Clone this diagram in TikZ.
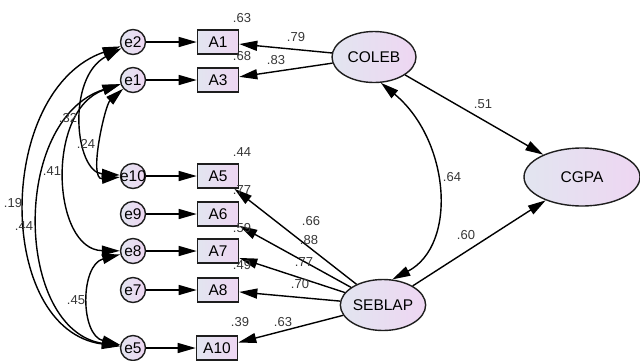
\documentclass[tikz,border=0pt]{standalone}
\usepackage{fontspec}
\setmainfont{Liberation Sans}
\usetikzlibrary{arrows.meta,shapes.geometric}
\definecolor{fillL}{RGB}{226,229,240}
\definecolor{fillR}{RGB}{238,214,242}
\definecolor{edgec}{RGB}{30,30,30}
\definecolor{numc}{RGB}{55,55,55}
\newcommand{\zw}[1]{\makebox[0pt]{#1}}
\begin{document}
\begin{tikzpicture}[x=1pt,y=-1pt,
  every node/.style={inner sep=0pt},
  errnode/.style={circle, draw=edgec, line width=1.4pt, minimum size=25pt,
    left color=fillL, right color=fillR, font=\fontsize{15.5}{17}\selectfont},
  obsnode/.style={rectangle, draw=edgec, line width=1.6pt, minimum width=41pt,
    minimum height=24pt, left color=fillL, right color=fillR,
    font=\fontsize{15.5}{17}\selectfont},
  latnode/.style={ellipse, draw=edgec, line width=1.4pt,
    left color=fillL, right color=fillR, font=\fontsize{15.5}{17}\selectfont},
  num/.style={font=\fontsize{13}{15}\selectfont, text=numc},
  regpath/.style={-{Triangle[length=18pt,width=10pt]}, line width=1.4pt},
  cov/.style={{Triangle[length=18pt,width=10pt]}-{Triangle[length=18pt,width=10pt]}, line width=1.4pt}
]
\useasboundingbox (0,0) rectangle (640,360);

% error terms
\node[errnode] (e2)  at (133,42)  {e2};
\node[errnode] (e1)  at (133,80)  {e1};
\node[errnode] (e10) at (133,176) {\zw{e10}};
\node[errnode] (e9)  at (133,214) {e9};
\node[errnode] (e8)  at (133,251) {e8};
\node[errnode] (e7)  at (133,290) {e7};
\node[errnode] (e5)  at (133,348) {e5};

% indicators
\node[obsnode] (A1)  at (218,42)  {A1};
\node[obsnode] (A3)  at (218,80)  {A3};
\node[obsnode] (A5)  at (218,176) {A5};
\node[obsnode] (A6)  at (218,214) {A6};
\node[obsnode] (A7)  at (218,251) {A7};
\node[obsnode] (A8)  at (218,290) {A8};
\node[obsnode] (A10) at (217,348) {A10};

% latent
\node[latnode, minimum width=84pt, minimum height=51pt] (COLEB) at (374,57) {COLEB};
\node[latnode, minimum width=83pt, minimum height=51pt] (SEBLAP) at (383,305) {SEBLAP};
\node[latnode, minimum width=116pt, minimum height=58pt] (CGPA) at (582,177) {CGPA};

% error arrows
\draw[regpath] (e2) -- (A1);
\draw[regpath] (e1) -- (A3);
\draw[regpath] (e10) -- (A5);
\draw[regpath] (e9) -- (A6);
\draw[regpath] (e8) -- (A7);
\draw[regpath] (e7) -- (A8);
\draw[regpath] (e5) -- (A10);

% loadings
\draw[regpath] (COLEB) -- (A1);
\draw[regpath] (COLEB) -- (A3);
\draw[regpath] (SEBLAP) -- (A5);
\draw[regpath] (SEBLAP) -- (A6);
\draw[regpath] (SEBLAP) -- (A7);
\draw[regpath] (SEBLAP) -- (A8);
\draw[regpath] (SEBLAP) -- (A10);
\draw[regpath] (COLEB) -- (CGPA);
\draw[regpath] (SEBLAP) -- (CGPA);

% covariances
\draw[cov] (COLEB.-75) .. controls (450,140) and (458,245) .. (SEBLAP.70);
\draw[cov] (e2) .. controls (66,78) and (75,172) .. (e10);
\draw[cov] (e1) .. controls (105,105) and (88,180) .. (e10);
\draw[cov] (e1) .. controls (45,110) and (52,250) .. (e8);
\draw[cov] (e2) .. controls (-5,90) and (-5,330) .. (e5);
\draw[cov] (e1) .. controls (10,120) and (15,330) .. (e5);
\draw[cov] (e8) .. controls (80,265) and (80,335) .. (e5);

% numbers
\node[num] (n1)  at (242,18)  {.63};
\node[num] (n2)  at (242,56)  {.68};
\node[num] (n3)  at (296,37)  {.79};
\node[num] (n4)  at (276,60)  {.83};
\node[num] (n5)  at (242,152) {.44};
\node[num] (n6)  at (242,190) {.77};
\node[num] (n7)  at (242,228) {.59};
\node[num] (n8)  at (242,265) {.49};
\node[num] (n9)  at (240,322) {.39};
\node[num] (n10) at (311,221) {.66};
\node[num] (n11) at (309,240) {.88};
\node[num] (n12) at (304,262) {.77};
\node[num] (n13) at (300,284) {.70};
\node[num] (n14) at (283,322) {.63};
\node[num] (n15) at (483,104) {.51};
\node[num] (n16) at (452,177) {.64};
\node[num] (n17) at (466,235) {.60};
\node[num] (n18) at (68,118)  {.32};
\node[num] (n19) at (86,144)  {.24};
\node[num] (n20) at (52,171)  {.41};
\node[num] (n21) at (13,203)  {.19};
\node[num] (n22) at (24,226)  {.44};
\node[num] (n23) at (76,300)  {.45};
\end{tikzpicture}
\end{document}
